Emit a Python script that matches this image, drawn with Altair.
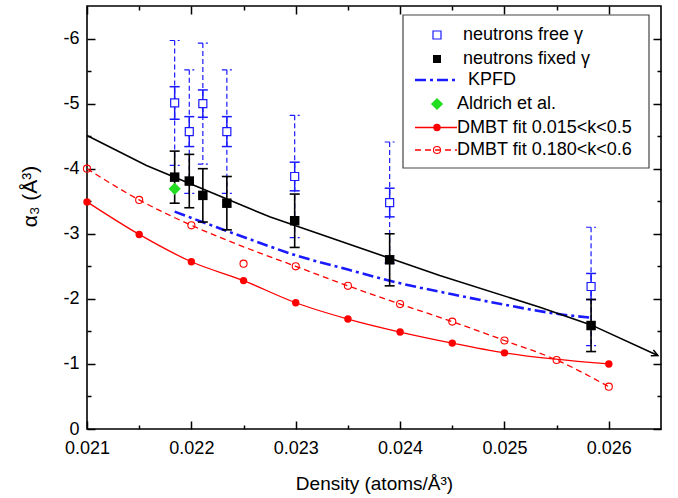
import math
import altair as alt
import pandas as pd

# ---- measured values -------------------------------------------------------
# neutron data, fixed gamma (black squares)
dens_pts = [0.02184, 0.02198, 0.02211, 0.02234, 0.02299, 0.02390, 0.02583]
alpha_fixed = [-3.87, -3.81, -3.59, -3.47, -3.20, -2.60, -1.59]
err_fixed = [0.40, 0.41, 0.41, 0.41, 0.41, 0.40, 0.40]

# neutron data, free gamma (open blue squares)
alpha_free = [-5.01, -4.57, -5.00, -4.57, -3.88, -3.48, -2.19]
err_free_stat = [0.25, 0.23, 0.21, 0.23, 0.22, 0.22, 0.20]
err_free_total = [0.96, 0.95, 0.93, 0.95, 0.94, 0.93, 0.91]

# Aldrich et al.
dens_aldrich = [0.02184]
alpha_aldrich = [-3.69]

# KPFD calculation
dens_kpfd = [0.02184, 0.0225, 0.023, 0.0235, 0.024, 0.0245, 0.025, 0.0255, 0.02583]
alpha_kpfd = [-3.34, -2.95, -2.67, -2.45, -2.24, -2.07, -1.91, -1.77, -1.71]

# black curve (ends with an arrow)
dens_curve = [0.021, 0.02157, 0.02275, 0.02438, 0.02534, 0.02583, 0.02647]
alpha_curve = [-4.51, -4.05, -3.26, -2.36, -1.87, -1.60, -1.13]

# DMBT fit 0.015<k<0.5
dens_dmbt1 = [0.021, 0.0215, 0.022, 0.0225, 0.023, 0.0235, 0.024, 0.0245, 0.025, 0.026]
alpha_dmbt1 = [-3.49, -2.99, -2.57, -2.28, -1.94, -1.69, -1.49, -1.32, -1.17, -1.00]

# DMBT fit 0.180<k<0.6 : points and fitted curve
dens_dmbt2 = [0.021, 0.0215, 0.022, 0.0225, 0.023, 0.0235, 0.024, 0.0245, 0.025, 0.0255, 0.026]
alpha_dmbt2 = [-4.00, -3.52, -3.13, -2.54, -2.50, -2.20, -1.92, -1.65, -1.36, -1.06, -0.65]
alpha_dmbt2_fit = [-4.00, -3.52, -3.13, -2.80, -2.50, -2.20, -1.92, -1.65, -1.36, -1.06, -0.65]

x_major = [0.021, 0.022, 0.023, 0.024, 0.025, 0.026]
x_minor = [0.0215, 0.0225, 0.0235, 0.0245, 0.0255]
y_major = [0, -1, -2, -3, -4, -5, -6]
y_minor = [-0.5, -1.5, -2.5, -3.5, -4.5, -5.5]

legend_labels = [
    "neutrons free \u03b3",
    "neutrons fixed \u03b3",
    "KPFD",
    "Aldrich et al.",
    "DMBT fit 0.015<k<0.5",
    "DMBT fit 0.180<k<0.6",
]

# ---- layout / style ----------------------------------------------------------
W, H = 574, 423
X_DOM = [0.021, 0.0265]
Y_DOM = [0, -6.5]
FONT = "Liberation Sans"
BLUE = "#1a1aff"
RED = "#ff0000"
GREEN = "#22dd22"

xs = alt.Scale(domain=X_DOM, nice=False, zero=False)
ys = alt.Scale(domain=Y_DOM, nice=False, zero=False)


def X(field, axis=None):
    return alt.X(f"{field}:Q", scale=xs, axis=axis)


def Y(field, axis=None):
    return alt.Y(f"{field}:Q", scale=ys, axis=axis)


df_fixed = pd.DataFrame({"d": dens_pts, "a": alpha_fixed})
df_fixed["lo"] = [a - e for a, e in zip(alpha_fixed, err_fixed)]
df_fixed["hi"] = [a + e for a, e in zip(alpha_fixed, err_fixed)]

df_free = pd.DataFrame({"d": dens_pts, "a": alpha_free})
df_free["slo"] = [a - e for a, e in zip(alpha_free, err_free_stat)]
df_free["shi"] = [a + e for a, e in zip(alpha_free, err_free_stat)]
df_free["tlo"] = [a - e for a, e in zip(alpha_free, err_free_total)]
df_free["thi"] = [a + e for a, e in zip(alpha_free, err_free_total)]

df_ald = pd.DataFrame({"d": dens_aldrich, "a": alpha_aldrich})
df_kpfd = pd.DataFrame({"d": dens_kpfd, "a": alpha_kpfd})
df_curve = pd.DataFrame({"d": dens_curve, "a": alpha_curve})
df_d1 = pd.DataFrame({"d": dens_dmbt1, "a": alpha_dmbt1})
df_d2 = pd.DataFrame({"d": dens_dmbt2, "a": alpha_dmbt2, "fit": alpha_dmbt2_fit})


def errbar(df, lo, hi, color, width, dash=None, half=5):
    kw = dict(color=color, strokeWidth=width)
    if dash:
        kw["strokeDash"] = dash
    bar = alt.Chart(df).mark_rule(**kw).encode(x=X("d"), y=Y(lo), y2=alt.Y2(f"{hi}:Q"))
    cap_kw = dict(kw, xOffset=-half, x2Offset=half)
    caps = [
        alt.Chart(df).mark_rule(**cap_kw).encode(x=X("d"), x2=alt.X2("d:Q"), y=Y(f))
        for f in (lo, hi)
    ]
    return [bar] + caps


# ---- axes: labels outside, ticks pointing inward on all four sides ----------
is_major_x = "abs(datum.value*1000 - round(datum.value*1000)) < 0.01"
is_major_y = "abs(datum.value - round(datum.value)) < 0.01"
tick_x = {"condition": {"test": is_major_x, "value": 8}, "value": 4}
tick_y = {"condition": {"test": is_major_y, "value": 8}, "value": 4}
x_all = x_major + x_minor
y_all = y_major + y_minor

axis_labels = alt.Chart(df_fixed).mark_point(opacity=0).encode(
    x=X("d", alt.Axis(orient="bottom", values=x_major, format=".3f", ticks=False,
                      domain=False, grid=False, labelFont=FONT, labelFontSize=18,
                      labelColor="black", labelPadding=10, labelFlush=False,
                      title="Density (atoms/\u00c5\u00b3)", titleFont=FONT,
                      titleFontSize=19, titleFontWeight="normal", titleColor="black",
                      titleX=W / 2, titleY=54, titleBaseline="middle")),
    y=Y("a", alt.Axis(orient="left", values=y_major,
                      labelExpr="datum.value == 0 ? '0' : '-' + format(abs(datum.value), 'd')",
                      ticks=False, domain=False, grid=False, labelFont=FONT,
                      labelFontSize=18, labelColor="black", labelPadding=8,
                      labelFlush=False,
                      title="\u03b1\u2083 (\u00c5\u00b3)", titleFont=FONT, titleFontSize=21,
                      titleFontWeight="normal", titleColor="black", titleAngle=270,
                      titleX=-57, titleY=190, titleAlign="center",
                      titleBaseline="middle")),
)

axis_ticks_a = alt.Chart(df_fixed).mark_point(opacity=0).encode(
    x=X("d", alt.Axis(orient="top", offset=-H, values=x_all, tickSize=tick_x,
                      tickColor="black", tickWidth=1.5, labels=False, domain=False,
                      grid=False, title=None)),
    y=Y("a", alt.Axis(orient="right", offset=-W, values=y_all, tickSize=tick_y,
                      tickColor="black", tickWidth=1.5, labels=False, domain=False,
                      grid=False, title=None)),
)

axis_ticks_b = alt.Chart(df_fixed).mark_point(opacity=0).encode(
    x=X("d", alt.Axis(orient="bottom", offset=-H, values=x_all, tickSize=tick_x,
                      tickColor="black", tickWidth=1.5, labels=False, domain=False,
                      grid=False, title=None)),
    y=Y("a", alt.Axis(orient="left", offset=-W, values=y_all, tickSize=tick_y,
                      tickColor="black", tickWidth=1.5, labels=False, domain=False,
                      grid=False, title=None)),
)

# ---- curves -----------------------------------------------------------------
dmbt1_line = alt.Chart(df_d1).mark_line(color=RED, strokeWidth=1.3, interpolate="monotone").encode(
    x=X("d"), y=Y("a"))
dmbt1_pts = alt.Chart(df_d1).mark_circle(color=RED, size=55, opacity=1).encode(x=X("d"), y=Y("a"))

dmbt2_line = alt.Chart(df_d2).mark_line(color=RED, strokeWidth=1.3, strokeDash=[6, 4],
                                        interpolate="monotone").encode(x=X("d"), y=Y("fit"))
dmbt2_pts = alt.Chart(df_d2).mark_point(shape="circle", filled=False, color=RED, size=50,
                                        strokeWidth=1.1, opacity=1).encode(x=X("d"), y=Y("a"))

kpfd_line = alt.Chart(df_kpfd).mark_line(color=BLUE, strokeWidth=2.6, strokeDash=[11, 4, 3, 4],
                                         interpolate="monotone").encode(x=X("d"), y=Y("a"))

curve_line = alt.Chart(df_curve).mark_line(color="black", strokeWidth=1.6).encode(
    x=X("d"), y=Y("a"))

# arrow head at the end of the black curve, rotated along the last segment
px_x = W / (X_DOM[1] - X_DOM[0])
px_y = H / (Y_DOM[0] - Y_DOM[1])
dx = (dens_curve[-1] - dens_curve[-2]) * px_x
dy = (alpha_curve[-1] - alpha_curve[-2]) * px_y
arrow_angle = math.degrees(math.atan2(dy, dx)) % 360
arrow = alt.Chart(df_curve.tail(1)).mark_point(
    shape="M-1,-0.5L0,0L-1,0.5", filled=False, color="black", strokeWidth=1.5,
    size=160, angle=arrow_angle, opacity=1).encode(x=X("d"), y=Y("a"))

# ---- neutron data -----------------------------------------------------------
free_total = errbar(df_free, "tlo", "thi", BLUE, 1.2, dash=[5, 3], half=5)
free_stat = errbar(df_free, "slo", "shi", BLUE, 1.5, half=5)
fixed_err = errbar(df_fixed, "lo", "hi", "black", 1.6, half=5)

free_pts = alt.Chart(df_free).mark_point(shape="square", filled=True, fill="white", stroke=BLUE,
                                         strokeWidth=1.2, size=64, opacity=1).encode(
    x=X("d"), y=Y("a"))
fixed_pts = alt.Chart(df_fixed).mark_point(shape="square", filled=True, color="black",
                                           size=90, opacity=1).encode(x=X("d"), y=Y("a"))
ald_pts = alt.Chart(df_ald).mark_point(shape="diamond", filled=True, color=GREEN,
                                       size=150, opacity=1).encode(x=X("d"), y=Y("a"))

# ---- legend box ------------------------------------------------------------
one = pd.DataFrame({"k": [0]})
LX0, LX1, LY0, LY1 = 316, 562, 9, 162
row_y = [29, 53, 74, 98, 121.5, 144]
sym_x = 350
line_x0, line_x1 = 328, 370
text_x = [376, 376, 381, 370, 370, 370]

legend = [alt.Chart(one).mark_rect(fill="white", stroke="#444444", strokeWidth=1.2).encode(
    x=alt.value(LX0), x2=alt.value(LX1), y=alt.value(LY0), y2=alt.value(LY1))]

legend.append(alt.Chart(one).mark_point(shape="square", filled=True, fill="white", stroke=BLUE,
                                        strokeWidth=1.2, size=64, opacity=1).encode(
    x=alt.value(sym_x), y=alt.value(row_y[0])))
legend.append(alt.Chart(one).mark_point(shape="square", filled=True, color="black", size=64,
                                        opacity=1).encode(x=alt.value(sym_x), y=alt.value(row_y[1])))
legend.append(alt.Chart(one).mark_rule(color=BLUE, strokeWidth=2.6, strokeDash=[11, 4, 3, 4]).encode(
    x=alt.value(line_x0), x2=alt.value(line_x1), y=alt.value(row_y[2])))
legend.append(alt.Chart(one).mark_point(shape="diamond", filled=True, color=GREEN, size=150,
                                        opacity=1).encode(x=alt.value(sym_x), y=alt.value(row_y[3])))
legend.append(alt.Chart(one).mark_rule(color=RED, strokeWidth=1.3).encode(
    x=alt.value(line_x0), x2=alt.value(line_x1), y=alt.value(row_y[4])))
legend.append(alt.Chart(one).mark_circle(color=RED, size=55, opacity=1).encode(
    x=alt.value(sym_x), y=alt.value(row_y[4])))
legend.append(alt.Chart(one).mark_rule(color=RED, strokeWidth=1.3, strokeDash=[6, 4]).encode(
    x=alt.value(line_x0), x2=alt.value(line_x1), y=alt.value(row_y[5])))
legend.append(alt.Chart(one).mark_point(shape="circle", filled=False, color=RED, size=50,
                                        strokeWidth=1.1, opacity=1).encode(
    x=alt.value(sym_x), y=alt.value(row_y[5])))
for lbl, tx, ty in zip(legend_labels, text_x, row_y):
    legend.append(alt.Chart(one).mark_text(align="left", baseline="middle", font=FONT,
                                           fontSize=18, color="black").encode(
        x=alt.value(tx), y=alt.value(ty), text=alt.value(lbl)))

layers = (
    [axis_labels, axis_ticks_a, axis_ticks_b,
     dmbt1_line, dmbt1_pts, dmbt2_line, dmbt2_pts, kpfd_line, curve_line, arrow]
    + free_total + free_stat + fixed_err
    + [free_pts, fixed_pts, ald_pts]
    + legend
)

chart = (
    alt.layer(*layers)
    .resolve_axis(x="independent", y="independent")
    .properties(width=W, height=H, autosize=alt.AutoSizeParams(type="none"),
                padding={"left": 87, "top": 6, "right": 17, "bottom": 69},
                background="white")
    .configure_view(stroke="black", strokeWidth=1.6)
)

chart.save("out.html", embed_options={"renderer": "svg", "actions": False})
